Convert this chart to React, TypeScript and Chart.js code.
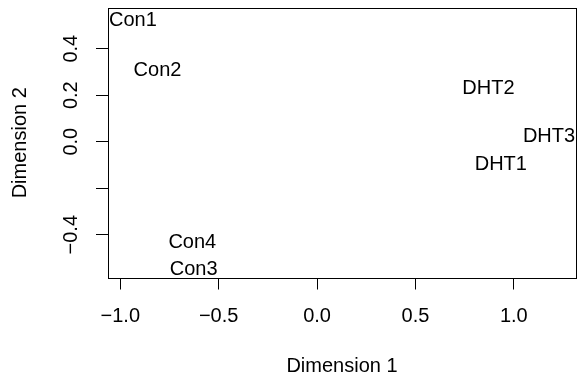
import React, { useEffect, useRef } from "react";
import { Chart, registerables } from "chart.js";

Chart.register(...registerables);

const sampleLabels = ["Con1", "Con2", "Con3", "Con4", "DHT1", "DHT2", "DHT3"];
const dim1 = [-0.936, -0.811, -0.627, -0.634, 0.934, 0.871, 1.179];
const dim2 = [0.523, 0.305, -0.548, -0.434, -0.097, 0.227, 0.024];

const xTickValues = [-1.0, -0.5, 0.0, 0.5, 1.0];
const xTickLabels = ["\u22121.0", "\u22120.5", "0.0", "0.5", "1.0"];
const yTickValues = [-0.4, -0.2, 0.0, 0.2, 0.4];
const yTickLabels = ["\u22120.4", "", "0.0", "0.2", "0.4"];

const xTitle = "Dimension 1";
const yTitle = "Dimension 2";

const FONT = '20px "Liberation Sans", Arial, Helvetica, sans-serif';

const labelPlugin = {
  id: "rStyle",
  afterDraw(chart: any) {
    const ctx = chart.ctx;
    const area = chart.chartArea;
    const xs = chart.scales.x;
    const ys = chart.scales.y;
    ctx.save();
    // box
    ctx.strokeStyle = "#000";
    ctx.lineWidth = 1;
    ctx.strokeRect(
      Math.round(area.left) + 0.5,
      Math.round(area.top) + 0.5,
      Math.round(area.right) - Math.round(area.left),
      Math.round(area.bottom) - Math.round(area.top)
    );
    ctx.fillStyle = "#000";
    ctx.font = FONT;
    ctx.textAlign = "center";
    ctx.textBaseline = "middle";
    // x tick labels
    xTickValues.forEach((v, i) => {
      ctx.fillText(xTickLabels[i], xs.getPixelForValue(v), area.bottom + 39);
    });
    // y tick labels (rotated)
    yTickValues.forEach((v, i) => {
      if (!yTickLabels[i]) return;
      ctx.save();
      ctx.translate(area.left - 37, ys.getPixelForValue(v));
      ctx.rotate(-Math.PI / 2);
      ctx.fillText(yTickLabels[i], 0, 0);
      ctx.restore();
    });
    // titles
    ctx.fillText(xTitle, (area.left + area.right) / 2, area.bottom + 89);
    ctx.save();
    ctx.translate(area.left - 88, (area.top + area.bottom) / 2);
    ctx.rotate(-Math.PI / 2);
    ctx.fillText(yTitle, 0, 0);
    ctx.restore();
    // point labels, clipped to plot area
    ctx.beginPath();
    ctx.rect(area.left, area.top, area.right - area.left, area.bottom - area.top);
    ctx.clip();
    const meta = chart.getDatasetMeta(0);
    meta.data.forEach((el: any, i: number) => {
      ctx.fillText(sampleLabels[i], el.x, el.y);
    });
    ctx.restore();
  },
};

export default function App() {
  const ref = useRef<HTMLCanvasElement | null>(null);
  useEffect(() => {
    if (!ref.current) return;
    const chart = new Chart(ref.current, {
      type: "scatter",
      data: {
        datasets: [
          {
            data: dim1.map((x, i) => ({ x, y: dim2[i] })),
            pointRadius: 0,
            pointHoverRadius: 0,
          },
        ],
      },
      options: {
        animation: false,
        responsive: false,
        events: [],
        layout: { padding: { top: 8, right: 1, left: 0, bottom: 0 } },
        plugins: { legend: { display: false }, tooltip: { enabled: false } },
        scales: {
          x: {
            type: "linear",
            min: -1.0625,
            max: 1.316,
            afterBuildTicks: (s: any) => {
              s.ticks = xTickValues.map((value) => ({ value }));
            },
            afterFit: (s: any) => {
              s.height = 99.5;
            },
            ticks: { display: false },
            grid: {
              drawOnChartArea: false,
              drawTicks: true,
              tickLength: 12,
              color: "#000",
              lineWidth: 1,
            },
            border: { display: false },
          },
          y: {
            type: "linear",
            min: -0.584,
            max: 0.575,
            afterBuildTicks: (s: any) => {
              s.ticks = yTickValues.map((value) => ({ value }));
            },
            afterFit: (s: any) => {
              s.width = 108;
            },
            ticks: { display: false },
            grid: {
              drawOnChartArea: false,
              drawTicks: true,
              tickLength: 12,
              color: "#000",
              lineWidth: 1,
            },
            border: { display: false },
          },
        },
      },
      plugins: [labelPlugin],
    });
    return () => chart.destroy();
  }, []);
  return (
    <div style={{ position: "fixed", left: 0, top: 0, width: 577, height: 377, background: "#fff" }}>
      <canvas ref={ref} width={577} height={377} />
    </div>
  );
}
